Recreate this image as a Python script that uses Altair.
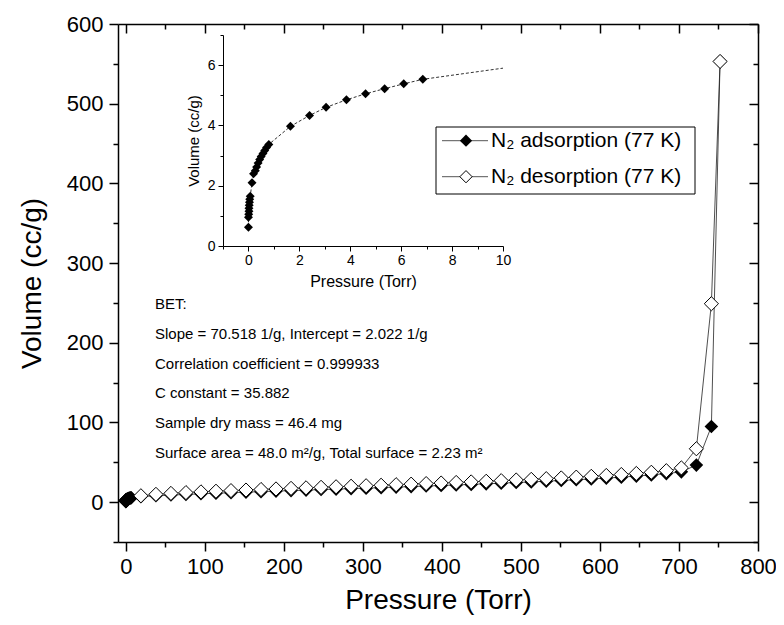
import altair as alt
import pandas as pd

FONT = "Liberation Sans"

# ---------------- data ----------------
# adsorption branch: pressure (Torr), volume (cc/g)
ads_p = [0.0, 0.0, 0.01, 0.02, 0.02, 0.03, 0.04, 0.05, 0.07, 0.14, 0.2, 0.27, 0.32, 0.38,
         0.44, 0.5, 0.57, 0.64, 0.71, 0.8, 1.65, 2.4, 3.05, 3.85, 4.6, 5.35, 6.1, 6.85,
         19, 38, 57, 76, 95, 114, 133, 152, 171, 190, 209, 228, 247, 266, 285, 304, 323,
         342, 361, 380, 399, 418, 437, 456, 475, 494, 513, 532, 551, 570, 589, 608, 627,
         646, 665, 684, 703, 722, 741, 752]
ads_v = [0.62, 0.95, 1.05, 1.15, 1.25, 1.35, 1.45, 1.55, 1.65, 2.1, 2.4, 2.5, 2.62, 2.75,
         2.87, 2.97, 3.07, 3.17, 3.27, 3.37, 3.97, 4.33, 4.6, 4.85, 5.05, 5.22, 5.38, 5.53,
         6.9, 8.0, 8.9, 9.7, 10.5, 11.2, 11.9, 12.6, 13.2, 13.9, 14.5, 15.1, 15.8, 16.4, 17.0,
         17.6, 18.2, 18.9, 19.5, 20.2, 20.9, 21.6, 22.3, 23.0, 23.8, 24.6, 25.4, 26.3, 27.2,
         28.1, 29.1, 30.2, 31.4, 32.7, 34.2, 35.8, 38.0, 46.5, 95.0, 553.0]

# desorption branch
des_p = [752, 741, 722, 703, 684, 665, 646, 627, 608, 589, 570, 551, 532, 513, 494, 475,
         456, 437, 418, 399, 380, 361, 342, 323, 304, 285, 266, 247, 228, 209, 190, 171,
         152, 133, 114, 95, 76, 57, 38, 19]
des_v = [553.0, 249.0, 67.0, 43.0, 39.5, 37.5, 36.0, 34.7, 33.5, 32.4, 31.4, 30.4, 29.5,
         28.6, 27.8, 27.0, 26.2, 25.4, 24.7, 24.0, 23.3, 22.6, 21.9, 21.2, 20.6, 19.9, 19.3,
         18.6, 18.0, 17.3, 16.6, 15.9, 15.2, 14.5, 13.7, 12.9, 12.0, 11.0, 9.8, 8.0]

# end of the inset's dashed line where it leaves the inset frame
inset_end_p = [10.0]
inset_end_v = [5.9]

# axis ticks
x_major = [0, 100, 200, 300, 400, 500, 600, 700, 800]
x_minor = [50, 150, 250, 350, 450, 550, 650, 750]
y_major = [0, 100, 200, 300, 400, 500, 600]
y_minor = [-50, 50, 150, 250, 350, 450, 550]
ix_major = [0, 2, 4, 6, 8, 10]
ix_minor = [-1, 1, 3, 5, 7, 9]
iy_major = [0, 2, 4, 6]
iy_minor = [1, 3, 5, 7]

bet_lines = [
    "BET:",
    "Slope = 70.518 1/g, Intercept = 2.022 1/g",
    "Correlation coefficient = 0.999933",
    "C constant = 35.882",
    "Sample dry mass = 46.4 mg",
    "Surface area = 48.0 m\u00b2/g, Total surface = 2.23 m\u00b2",
]
legend_labels = ["N\u2082 adsorption (77 K)", "N\u2082 desorption (77 K)"]

# ---------------- tables ----------------
ads = pd.DataFrame({"p": ads_p, "v": ads_v, "i": range(len(ads_p))})
des = pd.DataFrame({"p": des_p, "v": des_v, "i": range(len(des_p))})
ins_pts = ads[ads["p"] <= 10].copy()
ins_line = pd.concat([ins_pts, pd.DataFrame({"p": inset_end_p, "v": inset_end_v,
                                             "i": [len(ads_p)]})], ignore_index=True)
one = pd.DataFrame({"a": [0]})

W, H = 640, 518

xs = alt.Scale(domain=[-10, 800], nice=False, zero=False)
ys = alt.Scale(domain=[-50, 600], nice=False, zero=False)

common = dict(tickColor="black", domainColor="black", grid=False)


def ax(orient, values, tick, labels=False, title=None, offset=0, domain=True, **kw):
    args = dict(orient=orient, values=values, tickSize=tick, tickWidth=1.5,
                domainWidth=1.5, labels=labels, domain=domain, title=title, offset=offset,
                **common)
    args.update(kw)
    return alt.Axis(**args)


ax_b = ax("bottom", x_major, 9, labels=True, title="Pressure (Torr)", labelFontSize=22,
          titleFontSize=28, labelPadding=5, titlePadding=9, labelFlush=False,
          labelOverlap=False)
ax_l = ax("left", y_major, 9, labels=True, title="Volume (cc/g)", labelFontSize=22,
          titleFontSize=28, labelPadding=6, titlePadding=20, labelFlush=False,
          labelOverlap=False)
ax_b_min = ax("bottom", x_minor, 5, domain=False)
ax_l_min = ax("left", y_minor, 5, domain=False)
ax_t = ax("bottom", x_major, 9, offset=-H)
ax_r = ax("left", y_major, 9, offset=-W)
ax_t_min = ax("bottom", x_minor, 5, offset=-H, domain=False)
ax_r_min = ax("left", y_minor, 5, offset=-W, domain=False)


def enc(xa, ya):
    return dict(x=alt.X("p:Q", scale=xs, axis=xa), y=alt.Y("v:Q", scale=ys, axis=ya))


ads_line = alt.Chart(ads).mark_line(color="#222222", strokeWidth=0.8).encode(
    order="i:Q", **enc(ax_b, ax_l))
des_line = alt.Chart(des).mark_line(color="#222222", strokeWidth=0.8).encode(
    order="i:Q", **enc(ax_b, ax_l))
ads_pt = alt.Chart(ads).mark_point(shape="diamond", filled=True, color="black", size=185,
                                   opacity=1).encode(**enc(ax_b, ax_l))
des_pt = alt.Chart(des).mark_point(shape="diamond", filled=True, fill="white",
                                   stroke="black", strokeWidth=1, size=200,
                                   opacity=1).encode(**enc(ax_b, ax_l))
data_layer = alt.layer(ads_line, des_line, ads_pt, des_pt)


def ghost(xa, ya):
    return alt.Chart(des).mark_point(opacity=0).encode(**enc(xa, ya))


main = alt.layer(
    data_layer,
    ghost(ax_b_min, ax_l_min),
    ghost(ax_t, ax_r),
    ghost(ax_t_min, ax_r_min),
).resolve_axis(x="independent", y="independent")

# ---------------- inset ----------------
IX0, IX1 = 105, 385
IY0, IY1 = 222, 11
ixs = alt.Scale(domain=[-1, 10], range=[IX0, IX1], nice=False, zero=False)
iys = alt.Scale(domain=[0, 7], range=[IY0, IY1], nice=False, zero=False)


def iax(orient, values, tick, labels=False, title=None, domain=True, **kw):
    off = -(H - IY0) if orient == "bottom" else -IX0
    args = dict(orient=orient, values=values, tickSize=tick, tickWidth=1,
                domainWidth=1, labels=labels, domain=domain, title=title, offset=off,
                **common)
    args.update(kw)
    return alt.Axis(**args)


iax_b = iax("bottom", ix_major, 5, labels=True, title="Pressure (Torr)", labelFontSize=14,
            titleFontSize=16, labelPadding=2, titlePadding=6, labelFlush=False,
            labelOverlap=False)
iax_l = iax("left", iy_major, 5, labels=True, title="Volume (cc/g)", labelFontSize=14,
            titleFontSize=15, labelPadding=3, titlePadding=6, labelFlush=False,
            labelOverlap=False)
iax_b_min = iax("bottom", ix_minor, 3, domain=False)
iax_l_min = iax("left", iy_minor, 3, domain=False)


def ienc(xa, ya):
    return dict(x=alt.X("p:Q", scale=ixs, axis=xa), y=alt.Y("v:Q", scale=iys, axis=ya))


in_line = alt.Chart(ins_line).mark_line(color="#333333", strokeWidth=1,
                                        strokeDash=[3, 2]).encode(
    order="i:Q", **ienc(iax_b, iax_l))
in_pt = alt.Chart(ins_pts).mark_point(shape="diamond", filled=True, color="black",
                                      size=80, opacity=1).encode(**ienc(iax_b, iax_l))
in_ghost = alt.Chart(ins_pts).mark_point(opacity=0).encode(**ienc(iax_b_min, iax_l_min))
inset = alt.layer(alt.layer(in_line, in_pt), in_ghost).resolve_axis(
    x="independent", y="independent")

# ---------------- annotations ----------------
texts = []
for k, line in enumerate(bet_lines):
    texts.append(alt.Chart(one).mark_text(text=line, align="left", baseline="middle",
                                          font=FONT, fontSize=15, color="black").encode(
        x=alt.value(37), y=alt.value(280 + 29.8 * k)))

# legend
LX0, LX1, LY0, LY1 = 318, 577, 103, 170
rows = [116.7, 152.7]
leg = [alt.Chart(one).mark_rect(fill="white", stroke="black", strokeWidth=1).encode(
    x=alt.value(LX0), x2=alt.value(LX1), y=alt.value(LY0), y2=alt.value(LY1))]
for k, lab in enumerate(legend_labels):
    yy = rows[k]
    leg.append(alt.Chart(one).mark_rule(color="#555555", strokeWidth=1).encode(
        x=alt.value(324), x2=alt.value(370), y=alt.value(yy)))
    if k == 0:
        leg.append(alt.Chart(one).mark_point(shape="diamond", filled=True, color="black",
                                             size=150, opacity=1).encode(
            x=alt.value(348), y=alt.value(yy)))
    else:
        leg.append(alt.Chart(one).mark_point(shape="diamond", filled=True, fill="white",
                                             stroke="black", strokeWidth=1, size=150,
                                             opacity=1).encode(
            x=alt.value(348), y=alt.value(yy)))
    leg.append(alt.Chart(one).mark_text(text=lab, align="left", baseline="middle",
                                        font=FONT, fontSize=21, color="black").encode(
        x=alt.value(373), y=alt.value(yy)))

chart = alt.layer(main, inset, *texts, *leg).resolve_scale(
    x="independent", y="independent"
).properties(
    width=W, height=H,
    autosize=alt.AutoSizeParams(type="none"),
    padding={"left": 110, "top": 16, "right": 18, "bottom": 75},
).configure_axis(
    labelFont=FONT, titleFont=FONT, titleFontWeight="normal",
    labelColor="black", titleColor="black",
).configure_view(stroke=None)

chart.save("out.html", embed_options={"renderer": "svg", "actions": False})
